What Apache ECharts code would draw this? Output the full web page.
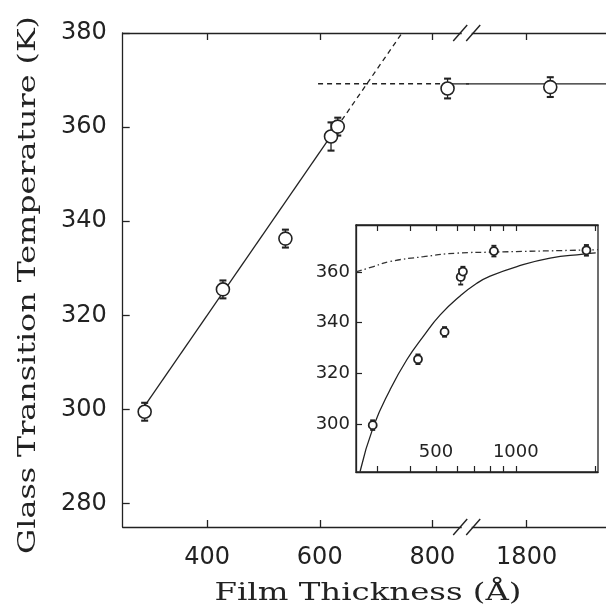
<!DOCTYPE html>
<html><head><meta charset="utf-8">
<script src="https://cdn.jsdelivr.net/npm/echarts@6/dist/echarts.min.js"></script>
<style>html,body{margin:0;padding:0;background:#fff}#c{width:606px;height:614px}</style>
</head><body><div id="c"></div>
<script>
// ---- data ----
const thickness = [289, 428, 539, 620, 632, 827, 1845];
const tg        = [299.5, 325.5, 336.3, 358.0, 360.1, 368.2, 368.5];
const tgErr     = [1.9, 1.9, 1.9, 3.0, 1.9, 2.1, 2.1];

const linearFitSolid  = [[290, 300.9], [630, 359.9]];
const linearFitDashed = [[630, 359.9], [745, 379.8]];
const plateauDashed   = [[597, 369.2], [827, 369.2]];
const plateauSolid    = [[827, 369.2], [1960, 369.2]];

const insetFitX = [259, 291, 336, 389, 449, 519, 617, 713, 800, 1010, 1346, 1795, 2000];
const insetFitT = [281.2, 299.0, 313.5, 325.4, 334.6, 343.0, 350.5, 355.5, 358.3, 362.1, 365.4, 367.0, 367.5];
const insetLimitX = [250, 291, 336.5, 449, 600, 822, 1960, 2040];
const insetLimitT = [360.0, 362.1, 364.1, 366.0, 367.4, 367.8, 368.7, 368.8];

const mainYTicks = [280, 300, 320, 340, 360, 380];
const mainXTicksLeft = [400, 600, 800];
const mainXTicksRight = [1800];
const insetYTicks = [300, 320, 340, 360];
const insetXTicks = [300, 400, 500, 600, 700, 800, 900, 1000, 2000];
const insetXLabels = [500, 1000];

const xTitle = 'Film Thickness (Å)';
const yTitle = 'Glass Transition Temperature (K)';

// ---- axis ranges ----
const leftMin = 250, leftMax = 861, rightMin = 1686, rightMax = 1951;
const yMin = 275, yMax = 380;
const insetXMin = 250, insetXMax = 2040, insetYMin = 281, insetYMax = 378.5;

const INK = '#222';
const lg = Math.log10;

const points = thickness.map((x, i) => [x, tg[i]]);
const errs = thickness.map((x, i) => [x, tg[i] - tgErr[i], tg[i] + tgErr[i]]);
const insetPoints = thickness.map((x, i) => [lg(x), tg[i]]);
const insetErrs = thickness.map((x, i) => [lg(x), tg[i] - tgErr[i], tg[i] + tgErr[i]]);
const insetFit = insetFitX.map((x, i) => [lg(x), insetFitT[i]]);
const insetLimit = insetLimitX.map((x, i) => [lg(x), insetLimitT[i]]);

function inRange(arr, lo, hi) { return arr.filter(d => d[0] >= lo && d[0] <= hi); }

function errRender(capHalf, lw) {
  return function (params, api) {
    const x = api.value(0), lo = api.value(1), hi = api.value(2);
    const a = api.coord([x, lo]), b = api.coord([x, hi]);
    const st = { stroke: INK, lineWidth: lw };
    const cap = { stroke: INK, lineWidth: lw + 0.8 };
    return { type: 'group', children: [
      { type: 'line', shape: { x1: a[0], y1: a[1], x2: b[0], y2: b[1] }, style: st },
      { type: 'line', shape: { x1: a[0] - capHalf, y1: a[1], x2: a[0] + capHalf, y2: a[1] }, style: cap },
      { type: 'line', shape: { x1: b[0] - capHalf, y1: b[1], x2: b[0] + capHalf, y2: b[1] }, style: cap }
    ] };
  };
}

const tickFont = { fontFamily: 'DejaVu Sans', fontSize: 24, color: INK };
const axisLine = { show: true, lineStyle: { color: INK, width: 1.3 } };

function mainX(gridIndex, min, max, ticks, pos, labels) {
  return {
    type: 'value', gridIndex, min, max, position: pos,
    axisLine: axisLine,
    axisTick: { show: true, inside: true, length: 7, customValues: ticks, lineStyle: { color: INK, width: 1.3 } },
    axisLabel: labels ? Object.assign({ show: true, margin: 19, customValues: ticks, formatter: v => String(v) }, tickFont) : { show: false },
    splitLine: { show: false }
  };
}

const option = {
  animation: false,
  backgroundColor: '#fff',
  grid: [
    { left: 122.7, top: 33, width: 344, height: 494 },
    { left: 466.7, top: 33, width: 149.3, height: 494 },
    { left: 356, top: 225, width: 242, height: 247, show: true, borderColor: INK, borderWidth: 1.3, backgroundColor: 'rgba(0,0,0,0)' }
  ],
  xAxis: [
    mainX(0, leftMin, leftMax, mainXTicksLeft, 'bottom', true),
    mainX(1, rightMin, rightMax, mainXTicksRight, 'bottom', true),
    mainX(0, leftMin, leftMax, mainXTicksLeft, 'top', false),
    mainX(1, rightMin, rightMax, mainXTicksRight, 'top', false),
    {
      type: 'value', gridIndex: 2, min: lg(insetXMin), max: lg(insetXMax), position: 'bottom',
      axisLine: axisLine,
      axisTick: { show: true, inside: true, length: 6, customValues: insetXTicks.map(lg), lineStyle: { color: INK, width: 1.2 } },
      axisLabel: { show: true, inside: true, margin: 11, customValues: insetXLabels.map(lg),
        formatter: v => String(Math.round(Math.pow(10, v))), fontFamily: 'DejaVu Sans', fontSize: 18, color: INK },
      splitLine: { show: false }
    },
    {
      type: 'value', gridIndex: 2, min: lg(insetXMin), max: lg(insetXMax), position: 'top',
      axisLine: axisLine,
      axisTick: { show: true, inside: true, length: 6, customValues: insetXTicks.map(lg), lineStyle: { color: INK, width: 1.2 } },
      axisLabel: { show: false }, splitLine: { show: false }
    }
  ],
  yAxis: [
    {
      type: 'value', gridIndex: 0, min: yMin, max: yMax,
      axisLine: axisLine,
      axisTick: { show: true, inside: true, length: 7, customValues: mainYTicks, lineStyle: { color: INK, width: 1.3 } },
      axisLabel: Object.assign({ show: true, margin: 16, customValues: mainYTicks }, tickFont),
      splitLine: { show: false }
    },
    { type: 'value', gridIndex: 1, min: yMin, max: yMax, show: false },
    {
      type: 'value', gridIndex: 2, min: insetYMin, max: insetYMax,
      axisLine: axisLine,
      axisTick: { show: true, inside: true, length: 6, customValues: insetYTicks, lineStyle: { color: INK, width: 1.2 } },
      axisLabel: { show: true, margin: 6, customValues: insetYTicks, fontFamily: 'DejaVu Sans', fontSize: 18, color: INK },
      splitLine: { show: false }
    }
  ],
  series: [
    // main left panel
    { type: 'line', xAxisIndex: 0, yAxisIndex: 0, data: linearFitSolid, symbol: 'none', lineStyle: { color: INK, width: 1.3 }, z: 2 },
    { type: 'line', xAxisIndex: 0, yAxisIndex: 0, data: linearFitDashed, symbol: 'none', lineStyle: { color: INK, width: 1.3, type: [5, 4] }, z: 2 },
    { type: 'line', xAxisIndex: 0, yAxisIndex: 0, data: plateauDashed, symbol: 'none', lineStyle: { color: INK, width: 1.5, type: [5, 4] }, z: 2 },
    { type: 'line', xAxisIndex: 0, yAxisIndex: 0, data: plateauSolid, symbol: 'none', clip: true, lineStyle: { color: INK, width: 1.3 }, z: 2 },
    { type: 'custom', xAxisIndex: 0, yAxisIndex: 0, data: inRange(errs, leftMin, leftMax), renderItem: errRender(3.5, 1.3), z: 3 },
    { type: 'scatter', xAxisIndex: 0, yAxisIndex: 0, data: inRange(points, leftMin, leftMax), symbol: 'circle', symbolSize: 13,
      itemStyle: { color: '#fff', borderColor: INK, borderWidth: 1.6, opacity: 1 }, z: 4 },
    // main right panel
    { type: 'line', xAxisIndex: 1, yAxisIndex: 1, data: plateauSolid, symbol: 'none', clip: true, lineStyle: { color: INK, width: 1.3 }, z: 2 },
    { type: 'custom', xAxisIndex: 1, yAxisIndex: 1, data: inRange(errs, rightMin, rightMax), renderItem: errRender(3.5, 1.3), z: 3 },
    { type: 'scatter', xAxisIndex: 1, yAxisIndex: 1, data: inRange(points, rightMin, rightMax), symbol: 'circle', symbolSize: 13,
      itemStyle: { color: '#fff', borderColor: INK, borderWidth: 1.6, opacity: 1 }, z: 4 },
    // inset
    { type: 'line', xAxisIndex: 4, yAxisIndex: 2, data: insetFit, symbol: 'none', smooth: true, lineStyle: { color: INK, width: 1.3 }, z: 2 },
    { type: 'line', xAxisIndex: 4, yAxisIndex: 2, data: insetLimit, symbol: 'none', smooth: true, lineStyle: { color: '#333', width: 1.3, type: [6, 3, 1.5, 3] }, z: 2 },
    { type: 'custom', xAxisIndex: 4, yAxisIndex: 2, data: insetErrs, renderItem: errRender(2.5, 1.1), z: 3 },
    { type: 'scatter', xAxisIndex: 4, yAxisIndex: 2, data: insetPoints, symbol: 'circle', symbolSize: 8,
      itemStyle: { color: '#fff', borderColor: INK, borderWidth: 1.8, opacity: 1 }, z: 4 }
  ]
};

const chart = echarts.init(document.getElementById('c'), null, { renderer: 'canvas' });
chart.setOption(option);

// stretch a serif font to the wide, typewriter-like widths of the original titles
const titleFont = '25px "DejaVu Serif"';
const mctx = document.createElement('canvas').getContext('2d');
mctx.font = titleFont;
const xTitleScale = 307 / mctx.measureText(xTitle).width;
const yTitleScale = 538 / mctx.measureText(yTitle).width;

const bx = 466.7;
function slashes(y) {
  return [-6.5, 6.5].map(dx => ({
    type: 'line', z: 100,
    shape: { x1: bx + dx - 7, y1: y + 8, x2: bx + dx + 7, y2: y - 8 },
    style: { stroke: INK, lineWidth: 1.4 }
  }));
}
chart.setOption({
  graphic: [
    { type: 'rect', z: 99, shape: { x: bx - 5, y: 30, width: 10, height: 6 }, style: { fill: '#fff' } },
    { type: 'rect', z: 99, shape: { x: bx - 5, y: 524, width: 10, height: 6 }, style: { fill: '#fff' } },
    ...slashes(33), ...slashes(527),
    { type: 'text', x: 368, y: 593, scaleX: xTitleScale, z: 100,
      style: { text: xTitle, font: titleFont, fill: INK, textAlign: 'center', textVerticalAlign: 'middle' } },
    { type: 'text', x: 28, y: 285, rotation: Math.PI / 2, scaleX: yTitleScale, z: 100,
      style: { text: yTitle, font: titleFont, fill: INK, textAlign: 'center', textVerticalAlign: 'middle' } }
  ]
});
</script>
</body></html>
